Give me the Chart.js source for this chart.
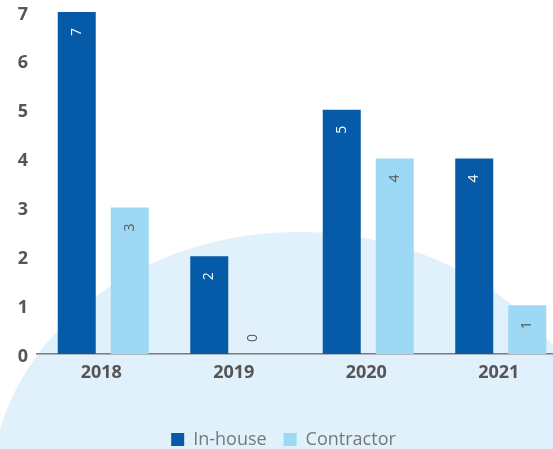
<!DOCTYPE html>
<html lang="en">

<head>
    <meta charset="UTF-8">
    <meta name="viewport" content="width=device-width, initial-scale=1.0">
    <title>In-house vs Contractor</title>
    <script src="https://cdn.jsdelivr.net/npm/chart.js"></script>
    <style>
        html,
        body {
            margin: 0;
            padding: 0;
            background-color: #fff;
            overflow: hidden;
        }

        .wrap {
            position: relative;
            width: 553px;
            height: 449px;
            overflow: hidden;
        }

        .wrap canvas {
            position: absolute;
            left: 0;
            top: 0;
        }
    </style>
</head>

<body>
    <div class="wrap">
        <canvas id="chart" width="567" height="449"></canvas>
    </div>

    <script>
        const years = ['2018', '2019', '2020', '2021'];
        const inHouse = [7, 2, 5, 4];
        const contractor = [3, 0, 4, 1];
        const seriesNames = ['In-house', 'Contractor'];

        const darkBlue = '#065ba8';
        const lightBlue = '#9dd8f4';

        // pale blue dome behind the bars
        const backdrop = {
            id: 'backdrop',
            beforeDraw(chart) {
                const ctx = chart.ctx;
                ctx.save();
                ctx.fillStyle = '#e0f1fb';
                ctx.beginPath();
                ctx.ellipse(300, 497, 310, 265, 0.02, 0, Math.PI * 2);
                ctx.fill();
                ctx.restore();
            }
        };

        // value labels, rotated, near the top of each bar
        const valueLabels = {
            id: 'valueLabels',
            afterDatasetsDraw(chart) {
                const ctx = chart.ctx;
                chart.data.datasets.forEach((ds, i) => {
                    const meta = chart.getDatasetMeta(i);
                    meta.data.forEach((bar, j) => {
                        const v = ds.data[j];
                        const x = v > 0 ? bar.x : bar.x - 9;
                        const y = v > 0 ? bar.y + 20 : bar.y - 16;
                        ctx.save();
                        ctx.translate(x, y);
                        ctx.rotate(-Math.PI / 2);
                        ctx.font = '14px "Open Sans"';
                        ctx.textAlign = 'center';
                        ctx.textBaseline = 'middle';
                        ctx.fillStyle = i === 0 ? '#ffffff' : '#555555';
                        ctx.fillText(String(v), 0, 0);
                        ctx.restore();
                    });
                });
            }
        };

        const ctx = document.getElementById('chart').getContext('2d');

        new Chart(ctx, {
            type: 'bar',
            data: {
                labels: years,
                datasets: [{
                    label: seriesNames[0],
                    data: inHouse,
                    backgroundColor: darkBlue,
                    borderWidth: 0
                }, {
                    label: seriesNames[1],
                    data: contractor,
                    backgroundColor: lightBlue,
                    borderWidth: 0
                }]
            },
            options: {
                responsive: false,
                animation: false,
                events: [],
                datasets: {
                    bar: {
                        categoryPercentage: 0.8,
                        barPercentage: 0.717
                    }
                },
                layout: {
                    padding: { top: 12, bottom: -9.5, left: 0, right: 0 }
                },
                scales: {
                    x: {
                        grid: { display: false, drawTicks: false },
                        border: { color: '#7a7a7a', width: 1.5 },
                        ticks: {
                            color: '#555',
                            padding: 8,
                            labelOffset: -2,
                            font: { family: '"Open Sans"', size: 18, weight: 'bold' }
                        },
                        afterFit: function (scale) {
                            scale.height = 59.5;
                        }
                    },
                    y: {
                        min: 0,
                        max: 7,
                        grid: { display: false, drawTicks: false },
                        border: { display: false },
                        ticks: {
                            stepSize: 1,
                            color: '#555',
                            padding: 9,
                            labelOffset: 2.5,
                            font: { family: '"Open Sans"', size: 18, weight: 'bold' }
                        },
                        afterFit: function (scale) {
                            scale.width = 37;
                            scale.paddingTop = 0;
                            scale.paddingBottom = 0;
                        }
                    }
                },
                plugins: {
                    legend: {
                        position: 'bottom',
                        labels: {
                            boxWidth: 13,
                            boxHeight: 13,
                            padding: 17,
                            color: '#777',
                            font: { family: '"Open Sans"', size: 18 }
                        }
                    },
                    tooltip: { enabled: false }
                }
            },
            plugins: [backdrop, valueLabels]
        });
    </script>
</body>

</html>
